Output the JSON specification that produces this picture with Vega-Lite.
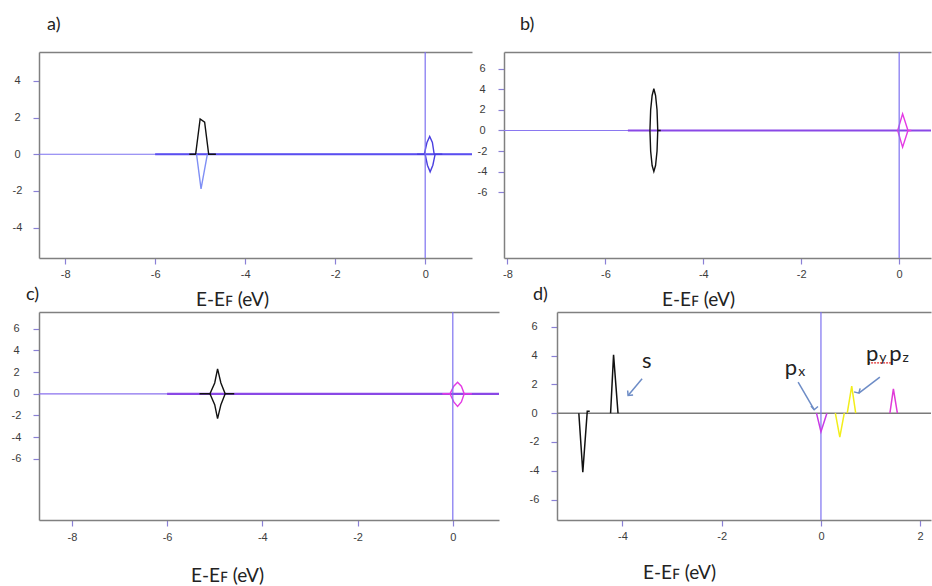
{
  "$schema": "https://vega.github.io/schema/vega-lite/v6.json",
  "padding": {"left": 11, "top": 16, "right": 0, "bottom": 0},
  "background": "white",
  "datasets": {
    "curves": [
      {"p": "a", "s": "s up", "part": "a1", "x": -5.24, "y": 0},
      {"p": "a", "s": "s up", "part": "a1", "x": -5.1, "y": 0},
      {"p": "a", "s": "s up", "part": "a1", "x": -5.0, "y": 1.93},
      {"p": "a", "s": "s up", "part": "a1", "x": -4.9, "y": 1.75},
      {"p": "a", "s": "s up", "part": "a1", "x": -4.81, "y": 0},
      {"p": "a", "s": "s up", "part": "a1", "x": -4.65, "y": 0},
      {"p": "a", "s": "s down", "part": "a2", "x": -5.08, "y": 0},
      {"p": "a", "s": "s down", "part": "a2", "x": -4.98, "y": -1.89},
      {"p": "a", "s": "s down", "part": "a2", "x": -4.84, "y": 0},
      {"p": "a", "s": "p up", "part": "a3", "x": -0.18, "y": 0},
      {"p": "a", "s": "p up", "part": "a3", "x": -0.02, "y": 0},
      {"p": "a", "s": "p up", "part": "a3", "x": 0.04, "y": 0.65},
      {"p": "a", "s": "p up", "part": "a3", "x": 0.1, "y": 0.97},
      {"p": "a", "s": "p up", "part": "a3", "x": 0.16, "y": 0.65},
      {"p": "a", "s": "p up", "part": "a3", "x": 0.2, "y": 0},
      {"p": "a", "s": "p up", "part": "a3", "x": 0.38, "y": 0},
      {"p": "a", "s": "p down", "part": "a4", "x": 0.0, "y": 0},
      {"p": "a", "s": "p down", "part": "a4", "x": 0.05, "y": -0.6},
      {"p": "a", "s": "p down", "part": "a4", "x": 0.11, "y": -0.96},
      {"p": "a", "s": "p down", "part": "a4", "x": 0.17, "y": -0.6},
      {"p": "a", "s": "p down", "part": "a4", "x": 0.22, "y": 0},

      {"p": "b", "s": "s", "part": "b1", "x": -5.09, "y": 0},
      {"p": "b", "s": "s", "part": "b1", "x": -5.075, "y": 2},
      {"p": "b", "s": "s", "part": "b1", "x": -5.045, "y": 3.4},
      {"p": "b", "s": "s", "part": "b1", "x": -5.01, "y": 4.05},
      {"p": "b", "s": "s", "part": "b1", "x": -4.975, "y": 3.4},
      {"p": "b", "s": "s", "part": "b1", "x": -4.945, "y": 2},
      {"p": "b", "s": "s", "part": "b1", "x": -4.93, "y": 0},
      {"p": "b", "s": "s", "part": "b1", "x": -4.87, "y": 0},
      {"p": "b", "s": "s", "part": "b2", "x": -5.09, "y": 0},
      {"p": "b", "s": "s", "part": "b2", "x": -5.075, "y": -2},
      {"p": "b", "s": "s", "part": "b2", "x": -5.045, "y": -3.4},
      {"p": "b", "s": "s", "part": "b2", "x": -5.01, "y": -3.98},
      {"p": "b", "s": "s", "part": "b2", "x": -4.975, "y": -3.4},
      {"p": "b", "s": "s", "part": "b2", "x": -4.945, "y": -2},
      {"p": "b", "s": "s", "part": "b2", "x": -4.93, "y": 0},
      {"p": "b", "s": "p", "part": "b3", "x": -0.03, "y": 0},
      {"p": "b", "s": "p", "part": "b3", "x": 0.07, "y": 1.62},
      {"p": "b", "s": "p", "part": "b3", "x": 0.18, "y": 0},
      {"p": "b", "s": "p", "part": "b3", "x": 0.25, "y": 0},
      {"p": "b", "s": "p", "part": "b4", "x": -0.03, "y": 0},
      {"p": "b", "s": "p", "part": "b4", "x": 0.07, "y": -1.62},
      {"p": "b", "s": "p", "part": "b4", "x": 0.18, "y": 0},

      {"p": "c", "s": "s", "part": "c1", "x": -5.32, "y": 0},
      {"p": "c", "s": "s", "part": "c1", "x": -5.1, "y": 0},
      {"p": "c", "s": "s", "part": "c1", "x": -5.0, "y": 1.0},
      {"p": "c", "s": "s", "part": "c1", "x": -4.94, "y": 2.3},
      {"p": "c", "s": "s", "part": "c1", "x": -4.87, "y": 1.0},
      {"p": "c", "s": "s", "part": "c1", "x": -4.78, "y": 0},
      {"p": "c", "s": "s", "part": "c1", "x": -4.59, "y": 0},
      {"p": "c", "s": "s", "part": "c2", "x": -5.1, "y": 0},
      {"p": "c", "s": "s", "part": "c2", "x": -5.0, "y": -1.0},
      {"p": "c", "s": "s", "part": "c2", "x": -4.94, "y": -2.3},
      {"p": "c", "s": "s", "part": "c2", "x": -4.87, "y": -1.0},
      {"p": "c", "s": "s", "part": "c2", "x": -4.78, "y": 0},
      {"p": "c", "s": "p", "part": "c3", "x": -0.22, "y": 0},
      {"p": "c", "s": "p", "part": "c3", "x": -0.06, "y": 0},
      {"p": "c", "s": "p", "part": "c3", "x": 0.02, "y": 0.7},
      {"p": "c", "s": "p", "part": "c3", "x": 0.1, "y": 1.07},
      {"p": "c", "s": "p", "part": "c3", "x": 0.18, "y": 0.7},
      {"p": "c", "s": "p", "part": "c3", "x": 0.24, "y": 0},
      {"p": "c", "s": "p", "part": "c3", "x": 0.4, "y": 0},
      {"p": "c", "s": "p", "part": "c4", "x": -0.06, "y": 0},
      {"p": "c", "s": "p", "part": "c4", "x": 0.02, "y": -0.75},
      {"p": "c", "s": "p", "part": "c4", "x": 0.1, "y": -1.17},
      {"p": "c", "s": "p", "part": "c4", "x": 0.18, "y": -0.75},
      {"p": "c", "s": "p", "part": "c4", "x": 0.24, "y": 0},

      {"p": "d", "s": "s", "part": "d1", "x": -4.88, "y": 0},
      {"p": "d", "s": "s", "part": "d1", "x": -4.8, "y": -4.1},
      {"p": "d", "s": "s", "part": "d1", "x": -4.71, "y": 0.14},
      {"p": "d", "s": "s", "part": "d1", "x": -4.66, "y": 0.14},
      {"p": "d", "s": "s", "part": "d2", "x": -4.24, "y": 0},
      {"p": "d", "s": "s", "part": "d2", "x": -4.18, "y": 4.05},
      {"p": "d", "s": "s", "part": "d2", "x": -4.09, "y": 0},
      {"p": "d", "s": "px", "part": "d3", "x": -0.09, "y": 0},
      {"p": "d", "s": "px", "part": "d3", "x": 0.0, "y": -1.28},
      {"p": "d", "s": "px", "part": "d3", "x": 0.12, "y": 0},
      {"p": "d", "s": "py", "part": "d4", "x": 0.29, "y": 0},
      {"p": "d", "s": "py", "part": "d4", "x": 0.38, "y": -1.67},
      {"p": "d", "s": "py", "part": "d4", "x": 0.47, "y": 0},
      {"p": "d", "s": "py", "part": "d5", "x": 0.53, "y": 0},
      {"p": "d", "s": "py", "part": "d5", "x": 0.62, "y": 1.88},
      {"p": "d", "s": "py", "part": "d5", "x": 0.7, "y": 0},
      {"p": "d", "s": "pz", "part": "d6", "x": 1.39, "y": 0},
      {"p": "d", "s": "pz", "part": "d6", "x": 1.46, "y": 1.69},
      {"p": "d", "s": "pz", "part": "d6", "x": 1.54, "y": 0}
    ],
    "base": [
      {"p": "a", "s": "total", "x": -6.0, "y": 0},
      {"p": "a", "s": "total", "x": 1.04, "y": 0},
      {"p": "b", "s": "sum", "x": -5.54, "y": 0},
      {"p": "b", "s": "sum", "x": 0.65, "y": 0},
      {"p": "c", "s": "sum", "x": -6.0, "y": 0},
      {"p": "c", "s": "sum", "x": 0.97, "y": 0}
    ],
    "hz": [
      {"p": "a", "y": 0}, {"p": "b", "y": 0}, {"p": "c", "y": 0}, {"p": "d", "y": 0}
    ],
    "vt": [
      {"p": "a", "x": 0}, {"p": "b", "x": 0}, {"p": "c", "x": 0}, {"p": "d", "x": 0}
    ],
    "arrows": [
      {"name": "s", "x": -3.605, "y": 2.39, "x2": -3.887, "y2": 1.23},
      {"name": "px", "x": -0.46, "y": 2.15, "x2": -0.137, "y2": 0.24},
      {"name": "py", "x": 1.187, "y": 2.5, "x2": 0.764, "y2": 1.39}
    ],
    "labels": [
      {"t": "s", "sub": "", "x": -3.415, "y": 3.15},
      {"t": "p", "sub": "x", "x": -0.48, "y": 2.62},
      {"t": "p", "sub": "y", "x": 1.155, "y": 3.65},
      {"t": "p", "sub": "z", "x": 1.625, "y": 3.65}
    ],
    "squiggle": [
      {"x": 0.95, "x2": 1.42, "y": 3.5}
    ]
  },
  "vconcat": [
    {
      "hconcat": [
        {
          "width": 433, "height": 206,
          "title": {"text": "a)", "dx": 8, "offset": 17, "frame": "group"},
          "resolve": {"axis": {"x": "independent"}},
          "layer": [
            {
              "data": {"name": "hz"}, "transform": [{"filter": "datum.p == 'a'"}],
              "mark": {"type": "rule", "color": "#7d72f0", "strokeWidth": 1.2},
              "encoding": {
                "y": {"field": "y", "type": "quantitative",
                  "scale": {"domain": [-5.66, 5.58], "nice": false, "zero": false},
                  "axis": {"values": [-4, -2, 0, 2, 4], "tickCount": 30, "labelOverlap": false, "labelAlign": "center", "labelPadding": 16, "title": null, "labelExpr": "'' + datum.value"}}
              }
            },
            {
              "data": {"name": "base"}, "transform": [{"filter": "datum.p == 'a'"}],
              "mark": {"type": "line", "strokeWidth": 2.2},
              "encoding": {
                "x": {"field": "x", "type": "quantitative", "scale": {"domain": [-8.58, 1.04], "nice": false, "zero": false},
                  "axis": {"orient": "bottom", "values": [-8, -6, -4, -2, 0], "tickCount": 30, "labelOverlap": false, "labelPadding": 4, "labelExpr": "'' + datum.value", "title": "E-Eꜰ (eV)", "titleX": 193, "titleY": 41, "titleBaseline": "middle"}},
                "y": {"field": "y", "type": "quantitative"},
                "color": {"field": "s", "type": "nominal", "legend": null,
                  "scale": {"domain": ["total", "s up", "s down", "p up", "p down", "sum", "s", "p", "px", "py", "pz"],
                    "range": ["#5a4ef0", "#111111", "#7f8ff5", "#4a3fe0", "#4a3fe0", "#8a48e6", "#111111", "#e43ae4", "#c83ae6", "#f2ee1a", "#e03ad8"]}}
              }
            },
            {
              "data": {"name": "curves"}, "transform": [{"filter": "datum.p == 'a'"}],
              "mark": {"type": "line", "strokeWidth": 1.4},
              "encoding": {
                "x": {"field": "x", "type": "quantitative", "axis": null},
                "y": {"field": "y", "type": "quantitative"},
                "color": {"field": "s", "type": "nominal", "legend": null,
                  "scale": {"domain": ["total", "s up", "s down", "p up", "p down", "sum", "s", "p", "px", "py", "pz"],
                    "range": ["#5a4ef0", "#111111", "#7f8ff5", "#4a3fe0", "#4a3fe0", "#8a48e6", "#111111", "#e43ae4", "#c83ae6", "#f2ee1a", "#e03ad8"]}},
                "detail": {"field": "part"}
              }
            },
            {
              "data": {"name": "vt"}, "transform": [{"filter": "datum.p == 'a'"}],
              "mark": {"type": "rule", "color": "#7d72f0", "strokeWidth": 1.2},
              "encoding": {
                "x": {"field": "x", "type": "quantitative", "axis": {"orient": "top", "labels": false, "ticks": false, "title": null}}
              }
            }
          ]
        },
        {
          "width": 427, "height": 206,
          "title": {"text": "b)", "dx": 16, "offset": 17, "frame": "group"},
          "resolve": {"axis": {"x": "independent"}},
          "layer": [
            {
              "data": {"name": "hz"}, "transform": [{"filter": "datum.p == 'b'"}],
              "mark": {"type": "rule", "color": "#8a78f0", "strokeWidth": 1.2},
              "encoding": {
                "y": {"field": "y", "type": "quantitative",
                  "scale": {"domain": [-12.38, 7.62], "nice": false, "zero": false},
                  "axis": {"values": [-6, -4, -2, 0, 2, 4, 6], "tickCount": 30, "labelOverlap": false, "labelAlign": "center", "labelPadding": 16, "title": null, "labelExpr": "'' + datum.value"}}
              }
            },
            {
              "data": {"name": "base"}, "transform": [{"filter": "datum.p == 'b'"}],
              "mark": {"type": "line", "strokeWidth": 2.2},
              "encoding": {
                "x": {"field": "x", "type": "quantitative", "scale": {"domain": [-8.07, 0.65], "nice": false, "zero": false},
                  "axis": {"orient": "bottom", "values": [-8, -6, -4, -2, 0], "tickCount": 30, "labelOverlap": false, "labelPadding": 4, "labelExpr": "'' + datum.value", "title": "E-Eꜰ (eV)", "titleX": 194, "titleY": 41, "titleBaseline": "middle"}},
                "y": {"field": "y", "type": "quantitative"},
                "color": {"field": "s", "type": "nominal", "legend": null,
                  "scale": {"domain": ["total", "s up", "s down", "p up", "p down", "sum", "s", "p", "px", "py", "pz"],
                    "range": ["#5a4ef0", "#111111", "#7f8ff5", "#4a3fe0", "#4a3fe0", "#8a48e6", "#111111", "#e43ae4", "#c83ae6", "#f2ee1a", "#e03ad8"]}}
              }
            },
            {
              "data": {"name": "curves"}, "transform": [{"filter": "datum.p == 'b'"}],
              "mark": {"type": "line", "strokeWidth": 1.4},
              "encoding": {
                "x": {"field": "x", "type": "quantitative", "axis": null},
                "y": {"field": "y", "type": "quantitative"},
                "color": {"field": "s", "type": "nominal", "legend": null,
                  "scale": {"domain": ["total", "s up", "s down", "p up", "p down", "sum", "s", "p", "px", "py", "pz"],
                    "range": ["#5a4ef0", "#111111", "#7f8ff5", "#4a3fe0", "#4a3fe0", "#8a48e6", "#111111", "#e43ae4", "#c83ae6", "#f2ee1a", "#e03ad8"]}},
                "detail": {"field": "part"}
              }
            },
            {
              "data": {"name": "vt"}, "transform": [{"filter": "datum.p == 'b'"}],
              "mark": {"type": "rule", "color": "#7d72f0", "strokeWidth": 1.2},
              "encoding": {
                "x": {"field": "x", "type": "quantitative", "axis": {"orient": "top", "labels": false, "ticks": false, "title": null}}
              }
            }
          ]
        }
      ],
      "spacing": 32,
      "bounds": "flush"
    },
    {
      "hconcat": [
        {
          "width": 460, "height": 208,
          "title": {"text": "c)", "dx": -13, "offset": 7, "frame": "group"},
          "resolve": {"axis": {"x": "independent"}},
          "layer": [
            {
              "data": {"name": "hz"}, "transform": [{"filter": "datum.p == 'c'"}],
              "mark": {"type": "rule", "color": "#8a70ee", "strokeWidth": 1.2},
              "encoding": {
                "y": {"field": "y", "type": "quantitative",
                  "scale": {"domain": [-11.65, 7.55], "nice": false, "zero": false},
                  "axis": {"values": [-6, -4, -2, 0, 2, 4, 6], "tickCount": 30, "labelOverlap": false, "labelAlign": "center", "labelPadding": 17, "title": null, "labelExpr": "'' + datum.value"}}
              }
            },
            {
              "data": {"name": "base"}, "transform": [{"filter": "datum.p == 'c'"}],
              "mark": {"type": "line", "strokeWidth": 2.2},
              "encoding": {
                "x": {"field": "x", "type": "quantitative", "scale": {"domain": [-8.69, 0.97], "nice": false, "zero": false},
                  "axis": {"orient": "bottom", "values": [-8, -6, -4, -2, 0], "tickCount": 30, "labelOverlap": false, "labelPadding": 5, "labelExpr": "'' + datum.value", "title": "E-Eꜰ (eV)", "titleX": 188, "titleY": 55, "titleBaseline": "middle"}},
                "y": {"field": "y", "type": "quantitative"},
                "color": {"field": "s", "type": "nominal", "legend": null,
                  "scale": {"domain": ["total", "s up", "s down", "p up", "p down", "sum", "s", "p", "px", "py", "pz"],
                    "range": ["#5a4ef0", "#111111", "#7f8ff5", "#4a3fe0", "#4a3fe0", "#8a48e6", "#111111", "#e43ae4", "#c83ae6", "#f2ee1a", "#e03ad8"]}}
              }
            },
            {
              "data": {"name": "curves"}, "transform": [{"filter": "datum.p == 'c'"}],
              "mark": {"type": "line", "strokeWidth": 1.4},
              "encoding": {
                "x": {"field": "x", "type": "quantitative", "axis": null},
                "y": {"field": "y", "type": "quantitative"},
                "color": {"field": "s", "type": "nominal", "legend": null,
                  "scale": {"domain": ["total", "s up", "s down", "p up", "p down", "sum", "s", "p", "px", "py", "pz"],
                    "range": ["#5a4ef0", "#111111", "#7f8ff5", "#4a3fe0", "#4a3fe0", "#8a48e6", "#111111", "#e43ae4", "#c83ae6", "#f2ee1a", "#e03ad8"]}},
                "detail": {"field": "part"}
              }
            },
            {
              "data": {"name": "vt"}, "transform": [{"filter": "datum.p == 'c'"}],
              "mark": {"type": "rule", "color": "#7d72f0", "strokeWidth": 1.2},
              "encoding": {
                "x": {"field": "x", "type": "quantitative", "axis": {"orient": "top", "labels": false, "ticks": false, "title": null}}
              }
            }
          ]
        },
        {
          "width": 374, "height": 208,
          "title": {"text": "d)", "dx": -24, "offset": 7, "frame": "group"},
          "resolve": {"axis": {"x": "independent"}},
          "layer": [
            {
              "data": {"name": "hz"}, "transform": [{"filter": "datum.p == 'd'"}],
              "mark": {"type": "rule", "color": "#7a7a7a", "strokeWidth": 1.5},
              "encoding": {
                "y": {"field": "y", "type": "quantitative",
                  "scale": {"domain": [-7.42, 7.03], "nice": false, "zero": false},
                  "axis": {"values": [-6, -4, -2, 0, 2, 4, 6], "tickCount": 30, "labelOverlap": false, "labelAlign": "center", "labelPadding": 17, "title": null, "labelExpr": "'' + datum.value"}}
              }
            },
            {
              "data": {"name": "vt"}, "transform": [{"filter": "datum.p == 'd'"}],
              "mark": {"type": "rule", "color": "#7d72f0", "strokeWidth": 1.2},
              "encoding": {
                "x": {"field": "x", "type": "quantitative", "scale": {"domain": [-5.32, 2.218], "nice": false, "zero": false},
                  "axis": {"orient": "top", "labels": false, "ticks": false, "title": null}}
              }
            },
            {
              "data": {"name": "curves"}, "transform": [{"filter": "datum.p == 'd'"}],
              "mark": {"type": "line", "strokeWidth": 1.5},
              "encoding": {
                "x": {"field": "x", "type": "quantitative",
                  "axis": {"orient": "bottom", "values": [-4, -2, 0, 2], "tickCount": 30, "labelOverlap": false, "labelPadding": 4, "labelExpr": "'' + datum.value", "title": "E-Eꜰ (eV)", "titleX": 122, "titleY": 52, "titleBaseline": "middle"}},
                "y": {"field": "y", "type": "quantitative"},
                "color": {"field": "s", "type": "nominal", "legend": null,
                  "scale": {"domain": ["total", "s up", "s down", "p up", "p down", "sum", "s", "p", "px", "py", "pz"],
                    "range": ["#5a4ef0", "#111111", "#7f8ff5", "#4a3fe0", "#4a3fe0", "#8a48e6", "#111111", "#e43ae4", "#c83ae6", "#f2ee1a", "#e03ad8"]}},
                "detail": {"field": "part"}
              }
            },
            {
              "data": {"name": "arrows"},
              "mark": {"type": "rule", "color": "#6d8cc6", "strokeWidth": 1.5},
              "encoding": {
                "x": {"field": "x", "type": "quantitative", "axis": null},
                "y": {"field": "y", "type": "quantitative"},
                "x2": {"field": "x2"},
                "y2": {"field": "y2"}
              }
            },
            {
              "data": {"name": "arrows"},
              "mark": {"type": "point", "shape": "M-1,1L0,0L1,1", "filled": false, "color": "#6d8cc6", "strokeWidth": 1.5, "size": 50, "opacity": 1},
              "encoding": {
                "x": {"field": "x2", "type": "quantitative", "axis": null},
                "y": {"field": "y2", "type": "quantitative"},
                "angle": {"field": "name", "type": "nominal", "legend": null, "scale": {"domain": ["s", "px", "py"], "range": [220, 150, 233]}}
              }
            },
            {
              "data": {"name": "squiggle"},
              "mark": {"type": "rule", "color": "#e03030", "strokeWidth": 1.2, "strokeDash": [2, 1]},
              "encoding": {
                "x": {"field": "x", "type": "quantitative", "axis": null},
                "x2": {"field": "x2"},
                "y": {"field": "y", "type": "quantitative"}
              }
            },
            {
              "data": {"name": "labels"},
              "mark": {"type": "text", "font": "Lato", "fontSize": 22, "align": "right", "baseline": "alphabetic", "color": "#222"},
              "encoding": {
                "x": {"field": "x", "type": "quantitative", "axis": null},
                "y": {"field": "y", "type": "quantitative"},
                "text": {"field": "t"}
              }
            },
            {
              "data": {"name": "labels"},
              "mark": {"type": "text", "font": "Lato", "fontSize": 14, "align": "left", "baseline": "alphabetic", "dy": 1, "dx": 1, "color": "#222"},
              "encoding": {
                "x": {"field": "x", "type": "quantitative", "axis": null},
                "y": {"field": "y", "type": "quantitative"},
                "text": {"field": "sub"}
              }
            }
          ]
        }
      ],
      "spacing": 58,
      "bounds": "flush"
    }
  ],
  "spacing": 260,
  "bounds": "flush",
  "config": {
    "view": {"stroke": null},
    "axis": {
      "grid": false,
      "labelOverlap": false,
      "domainColor": "#808080",
      "domainWidth": 1.5,
      "tickColor": "#8a80d6",
      "tickSize": 6,
      "tickWidth": 1.2,
      "labelFont": "Liberation Sans",
      "labelFontSize": 11,
      "labelColor": "#3c3c3c",
      "titleFont": "Lato",
      "titleFontSize": 19,
      "titleFontWeight": "normal",
      "titleColor": "#222222"
    },
    "title": {"font": "Lato", "fontSize": 18, "fontWeight": "normal", "anchor": "start", "color": "#222222"}
  }
}
